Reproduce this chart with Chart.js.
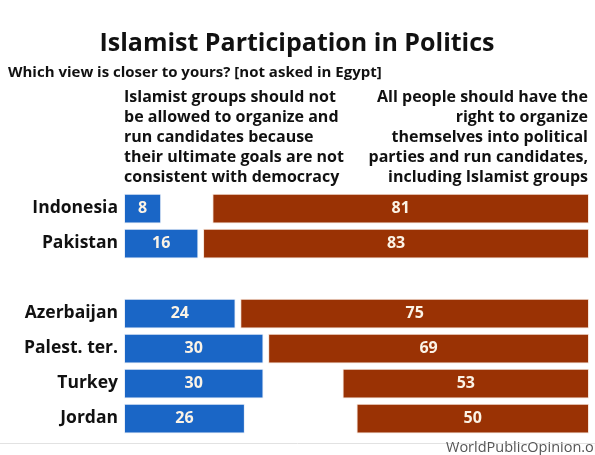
<!DOCTYPE html>
<html>
<head>
<meta charset="utf-8">
<script src="https://cdn.jsdelivr.net/npm/chart.js@4"></script>
<style>
  html, body { margin: 0; padding: 0; background: #fff; }
  #wrap { width: 595px; height: 455px; position: relative; }
</style>
</head>
<body>
<div id="wrap"><canvas id="chart"></canvas></div>
<script>
const countries = ["Indonesia", "Pakistan", "", "Azerbaijan", "Palest. ter.", "Turkey", "Jordan"];
const notAllowed = [8, 16, null, 24, 30, 30, 26];
const rightToOrganize = [81, 83, null, 75, 69, 53, 50];

const titleText = "Islamist Participation in Politics";
const subtitleText = "Which view is closer to yours? [not asked in Egypt]";
const leftHeader = ["Islamist groups should not", "be allowed to organize and", "run candidates because", "their ultimate goals are not", "consistent with democracy"];
const rightHeader = ["All people should have the", "right to organize", "themselves into political", "parties and run candidates,", "including Islamist groups"];
const sourceText = "WorldPublicOpinion.org";

const BLUE = "#1a66c6";
const BROWN = "#9a3204";
const FONT = "'Open Sans', 'DejaVu Sans', sans-serif";

// === text around the bars ===
const textPlugin = {
  id: "texts",
  afterDraw(chart) {
    const c = chart.ctx;
    c.save();
    c.fillStyle = "#111";
    c.textBaseline = "middle";

    c.font = "bold 25px " + FONT;
    c.textAlign = "center";
    c.fillText(titleText, 297, 44);

    c.font = "bold 15px " + FONT;
    c.textAlign = "left";
    c.fillText(subtitleText, 8, 73);

    c.font = "bold 16px " + FONT;
    leftHeader.forEach((t, i) => c.fillText(t, 124, 97 + i * 20));
    c.textAlign = "right";
    rightHeader.forEach((t, i) => c.fillText(t, 588, 97 + i * 20));

    // value labels inside bars
    c.font = "bold 16px " + FONT;
    c.fillStyle = "#fbf3e6";
    c.textAlign = "center";
    chart.data.datasets.forEach((ds, di) => {
      chart.getDatasetMeta(di).data.forEach((bar, i) => {
        const v = di === 0 ? notAllowed[i] : rightToOrganize[i];
        if (v == null) return;
        c.fillText(String(v), (bar.x + bar.base) / 2, bar.y);
      });
    });

    c.strokeStyle = "#e2e2e2";
    c.lineWidth = 1;
    c.beginPath();
    c.moveTo(0, 443.5);
    c.lineTo(595, 443.5);
    c.stroke();

    c.font = "14.5px " + FONT;
    c.fillStyle = "#555";
    c.textAlign = "left";
    c.fillText(sourceText, 446, 448);
    c.restore();
  }
};

new Chart(document.getElementById("chart"), {
  type: "bar",
  data: {
    labels: countries,
    datasets: [
      {
        label: "Should not be allowed",
        data: notAllowed,
        backgroundColor: BLUE,
        borderColor: "#e8eef8",
        borderWidth: 1,
        borderSkipped: false,
        grouped: false,
        barPercentage: 0.85,
        categoryPercentage: 1
      },
      {
        label: "Right to organize",
        data: rightToOrganize.map(v => v == null ? null : [100 - v, 100]),
        backgroundColor: BROWN,
        borderColor: "#f6e4d8",
        borderWidth: 1,
        borderSkipped: false,
        grouped: false,
        barPercentage: 0.85,
        categoryPercentage: 1
      }
    ]
  },
  options: {
    indexAxis: "y",
    responsive: true,
    maintainAspectRatio: false,
    animation: false,
    layout: { padding: { left: 0, right: 6, top: 191, bottom: 19 } },
    scales: {
      x: { display: false, min: 0, max: 100 },
      y: {
        grid: { display: false },
        border: { display: false },
        ticks: { color: "#111", font: { family: FONT, size: 17.5, weight: "bold" }, padding: -2 },
        afterFit(scale) { scale.width = 124; }
      }
    },
    plugins: {
      legend: { display: false },
      tooltip: { enabled: false },
      title: { display: false }
    }
  },
  plugins: [textPlugin]
});
</script>
</body>
</html>
